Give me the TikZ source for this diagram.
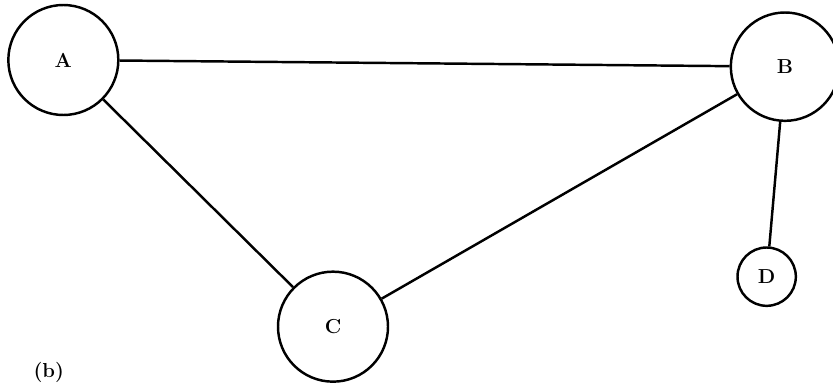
\documentclass[tikz,border=0pt]{standalone}
\begin{document}
\begin{tikzpicture}[
    knoop/.style={circle, draw, line width=2.1pt, inner sep=0pt, font=\LARGE\bfseries},
    lijn/.style={line width=2.1pt}
]
    \useasboundingbox (0,0) rectangle (24.99,-11.49);

    % Knopen
    \node[knoop, minimum size=3.3cm] (A) at (1.9,-1.8) {A};
    \node[knoop, minimum size=3.25cm] (B) at (23.55,-2.0) {B};
    \node[knoop, minimum size=3.3cm] (C) at (9.99,-9.8) {C};
    \node[knoop, minimum size=1.75cm] (D) at (23.0,-8.3) {D};

    % Verbindingen
    \draw[lijn] (A) -- (B);
    \draw[lijn] (A) -- (C);
    \draw[lijn] (B) -- (C);
    \draw[lijn] (B) -- (D);

    \node[font=\LARGE\bfseries, anchor=south west, inner sep=0pt] (deel) at (1.0,-11.47) {(b)};
\end{tikzpicture}
\end{document}
